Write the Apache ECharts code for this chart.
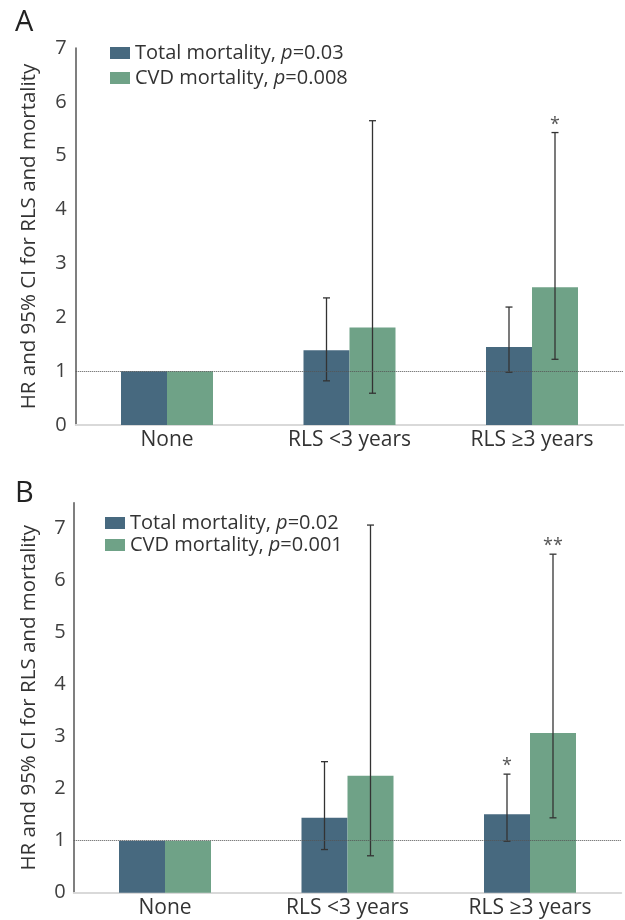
<!DOCTYPE html>
<html>
<head>
<meta charset="utf-8">
<script src="https://cdn.jsdelivr.net/npm/echarts@6/dist/echarts.min.js"></script>
<style>
html,body{margin:0;padding:0;background:#fff;}
#chart{width:625px;height:920px;}
</style>
</head>
<body>
<div id="chart"></div>
<script>
// ---- data ----
const categories = ['None', 'RLS <3 years', 'RLS \u22653 years'];
const yTicksA = [0, 1, 2, 3, 4, 5, 6, 7];
const yTicksB = [0, 1, 2, 3, 4, 5, 6, 7];

const nameTotalA = 'Total mortality, p=0.03';
const nameCvdA = 'CVD mortality, p=0.008';
const totalA = [1, 1.39, 1.45];
const totalA_low = [null, 0.82, 0.98];
const totalA_high = [null, 2.36, 2.19];
const totalA_star = ['', '', ''];
const cvdA = [1, 1.81, 2.56];
const cvdA_low = [null, 0.59, 1.22];
const cvdA_high = [null, 5.65, 5.43];
const cvdA_star = ['', '', '*'];

const nameTotalB = 'Total mortality, p=0.02';
const nameCvdB = 'CVD mortality, p=0.001';
const totalB = [1, 1.44, 1.51];
const totalB_low = [null, 0.83, 0.99];
const totalB_high = [null, 2.52, 2.28];
const totalB_star = ['', '', '*'];
const cvdB = [1, 2.25, 3.07];
const cvdB_low = [null, 0.71, 1.44];
const cvdB_high = [null, 7.07, 6.51];
const cvdB_star = ['', '', '**'];

// ---- style ----
const FONT = '"Open Sans", "Noto Sans", sans-serif';
const C_TOTAL = '#47697f';
const C_CVD = '#6fa287';
const BAR_W = 46;

function errData(low, high, star) {
  const out = [];
  for (let i = 0; i < low.length; i++) {
    if (low[i] == null) continue;
    out.push([i, low[i], high[i], star[i]]);
  }
  return out;
}

function errSeries(axisIdx, low, high, star, offset) {
  return {
    type: 'custom',
    xAxisIndex: axisIdx, yAxisIndex: axisIdx,
    z: 5,
    silent: true,
    data: errData(low, high, star),
    encode: { x: 0, y: [1, 2] },
    renderItem: function (params, api) {
      const idx = api.value(0);
      const p1 = api.coord([idx, api.value(1)]);
      const p2 = api.coord([idx, api.value(2)]);
      const x = p1[0] + offset;
      const st = { stroke: '#333', lineWidth: 1.3 };
      const children = [
        { type: 'line', shape: { x1: x, y1: p1[1], x2: x, y2: p2[1] }, style: st },
        { type: 'line', shape: { x1: x - 3.5, y1: p1[1], x2: x + 3.5, y2: p1[1] }, style: st },
        { type: 'line', shape: { x1: x - 3.5, y1: p2[1], x2: x + 3.5, y2: p2[1] }, style: st }
      ];
      const s = star[idx];
      if (s) {
        children.push({
          type: 'text',
          style: { text: s, x: x, y: p2[1] - 8, align: 'center', verticalAlign: 'middle',
                   fontSize: 18, fontFamily: FONT, fill: '#555' }
        });
      }
      return { type: 'group', children: children };
    }
  };
}

function legendFmt(name) {
  const k = name.indexOf('p=');
  return '{n|' + name.slice(0, k) + '}{i|p}{n|' + name.slice(k + 1) + '}';
}
function legend(names, left, top, gap) {
  return {
    data: names, orient: 'vertical', left: left, top: top,
    itemWidth: 20, itemHeight: 12, itemGap: gap, itemTextGap: 6,
    icon: 'rect', selectedMode: false,
    formatter: legendFmt,
    textStyle: {
      fontFamily: FONT, fontSize: 20, color: '#333',
      rich: {
        n: { fontFamily: FONT, fontSize: 20, color: '#333' },
        i: { fontFamily: FONT, fontSize: 20, color: '#333', fontStyle: 'italic' }
      }
    }
  };
}

function xAxis(gridIndex) {
  return {
    type: 'category', gridIndex: gridIndex, data: categories,
    axisLine: { lineStyle: { color: '#d9d9d9', width: 2 } },
    axisTick: { show: false },
    axisLabel: { fontFamily: FONT, fontSize: 21, color: '#333', margin: 5 }
  };
}
function yAxis(gridIndex, max, ticks, labelMargin, nameGap) {
  return {
    type: 'value', gridIndex: gridIndex, min: 0, max: max, interval: 1,
    name: 'HR and 95% CI for RLS and mortality',
    nameLocation: 'middle', nameGap: nameGap,
    nameTextStyle: { fontFamily: FONT, fontSize: 20.5, color: '#333' },
    axisLine: { show: true, lineStyle: { color: '#555', width: 1.5 } },
    axisTick: { show: false },
    splitLine: { show: false },
    axisLabel: {
      fontFamily: FONT, fontSize: 20, color: '#404040', margin: labelMargin,
      formatter: function (v) { return ticks.indexOf(v) >= 0 ? String(v) : ''; }
    }
  };
}

function barSeries(name, data, color, axisIdx, withRef) {
  const s = {
    name: name, type: 'bar', xAxisIndex: axisIdx, yAxisIndex: axisIdx,
    data: data, barWidth: BAR_W, barGap: '0%',
    itemStyle: { color: color },
    silent: true
  };
  if (withRef) {
    s.markLine = {
      silent: true, symbol: ['none', 'none'], label: { show: false },
      lineStyle: { type: 'dotted', color: '#555', width: 1 },
      data: [{ yAxis: 1 }], z: 6
    };
  }
  return s;
}

const chart = echarts.init(document.getElementById('chart'), null, { renderer: 'canvas' });
chart.setOption({
  animation: false,
  backgroundColor: '#fff',
  title: [
    { text: 'A', left: 10, top: 3, textStyle: { fontFamily: FONT, fontSize: 29, fontWeight: 'normal', color: '#222' } },
    { text: 'B', left: 10, top: 474, textStyle: { fontFamily: FONT, fontSize: 29, fontWeight: 'normal', color: '#222' } }
  ],
  legend: [
    legend([nameTotalA, nameCvdA], 105, 38, 5),
    legend([nameTotalB, nameCvdB], 100, 508, 2)
  ],
  grid: [
    { left: 75.75, top: 48, width: 547.5, height: 377 },
    { left: 73.75, top: 502.7, width: 547.5, height: 390 }
  ],
  xAxis: [xAxis(0), xAxis(1)],
  yAxis: [yAxis(0, 7, yTicksA, 9, 36), yAxis(1, 7.5, yTicksB, 8, 34)],
  series: [
    barSeries(nameTotalA, totalA, C_TOTAL, 0, true),
    barSeries(nameCvdA, cvdA, C_CVD, 0, false),
    barSeries(nameTotalB, totalB, C_TOTAL, 1, true),
    barSeries(nameCvdB, cvdB, C_CVD, 1, false),
    errSeries(0, totalA_low, totalA_high, totalA_star, -BAR_W / 2),
    errSeries(0, cvdA_low, cvdA_high, cvdA_star, BAR_W / 2),
    errSeries(1, totalB_low, totalB_high, totalB_star, -BAR_W / 2),
    errSeries(1, cvdB_low, cvdB_high, cvdB_star, BAR_W / 2)
  ]
});
</script>
</body>
</html>
